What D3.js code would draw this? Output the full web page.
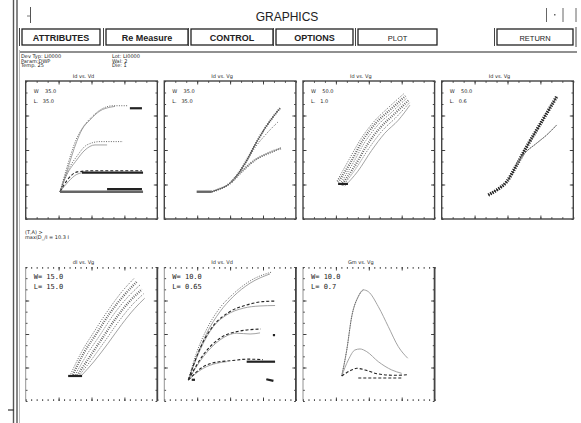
<!DOCTYPE html>
<html><head><meta charset="utf-8">
<script src="https://cdn.jsdelivr.net/npm/d3@7"></script>
<style>
body{margin:0;background:#fff}
svg{display:block}
text{font-family:"DejaVu Sans",sans-serif;fill:#222}
</style>
</head><body><div id="chart"></div>
<script>
// ---- data (each panel uses 0..12 units on both axes)

// top row, panel 1: Id vs. Vd
var idVdA1 = [[3.13,2.37],[3.74,4.12],[4.65,6.73],[5.11,7.74],[5.86,8.61],[6.78,9.40],[7.69,9.72],[8.14,9.79]];
var idVdA2 = [[3.13,2.37],[3.7,4.3],[4.6,6.9],[5.2,7.95],[6.0,8.85],[7.0,9.6],[8.0,9.85],[9.3,9.85]];
var idVdA3 = [[9.5,9.63],[10.6,9.63]];
var idVdB1 = [[3.13,2.37],[3.74,3.83],[4.65,5.13],[5.41,6.0],[6.32,6.44],[7.42,6.44]];
var idVdB2 = [[3.13,2.37],[3.8,4.1],[4.7,5.5],[5.6,6.45],[6.78,6.73],[8.87,6.73]];
var idVdC1 = [[3.13,2.37],[3.89,3.25],[4.6,3.85],[5.13,4.03]];
var idVdC1Flat = [[5.13,4.03],[10.7,4.03]];
var idVdC2 = [[3.13,2.37],[3.8,3.4],[4.7,4.1],[6.05,4.2],[10.6,4.2]];
var idVdD1 = [[3.13,2.37],[10.7,2.37]];
var idVdD2 = [[7.42,2.6],[10.6,2.6]];

// top row, panel 2: Id vs. Vg
var idVg1Flat = [[2.95,2.37],[4.32,2.37]];
var idVg1A = [[4.32,2.37],[4.78,2.52],[6.15,3.25],[7.36,4.85],[8.27,6.44],[9.18,7.89],[9.94,8.9],[10.55,9.63]];
var idVg1B = [[6.15,3.25],[7.36,4.75],[8.27,6.2],[9.3,7.4],[10.4,8.47]];
var idVg1C = [[6.15,3.25],[7.06,4.12],[8.27,5.13],[9.48,5.72],[10.64,6.15]];

// top row, panel 3: Id vs. Vg (bundle)
var idVg2C1 = [[3.1,3.3],[4.1,5.0],[5.3,7.0],[6.5,8.5],[7.8,9.7],[9.2,10.9]];
var idVg2C2 = [[3.2,3.2],[4.3,4.85],[5.45,6.85],[6.65,8.35],[7.95,9.5],[9.35,10.7]];
var idVg2C3 = [[3.37,3.05],[4.47,4.7],[5.65,6.7],[6.84,8.18],[8.12,9.31],[9.48,10.53]];
var idVg2C4 = [[3.5,2.95],[4.65,4.5],[5.85,6.45],[7.05,7.95],[8.3,9.1],[9.6,10.3]];
var idVg2C5 = [[3.65,2.9],[4.8,4.35],[6.05,6.2],[7.25,7.7],[8.5,8.85],[9.7,10.1]];
var idVg2C6 = [[3.8,2.85],[5.0,4.15],[6.25,5.95],[7.45,7.45],[8.7,8.6],[9.75,9.9]];
var idVg2Stub = [[3.2,3.05],[4.1,3.05]];

// top row, panel 4: Id vs. Vg
var idVg3Main = [[4.25,2.09],[5.02,2.52],[5.93,3.25],[6.84,4.70],[7.75,6.29],[8.66,7.74],[9.58,9.2],[10.49,10.64]];
var idVg3Low = [[6.84,4.70],[7.44,5.57],[8.66,6.59],[9.58,7.31],[10.49,8.18]];

// bottom row, panel 1: dI vs. Vg (bundle)
var diVgE1 = [[4.1,2.4],[5.1,4.4],[6.3,6.3],[7.5,8.1],[8.7,9.7],[9.9,11.0]];
var diVgE2 = [[4.3,2.35],[5.3,4.3],[6.5,6.1],[7.7,7.9],[8.95,9.45],[10.15,10.7]];
var diVgE3 = [[4.5,2.33],[5.56,4.12],[6.78,5.91],[7.99,7.71],[9.21,9.2],[10.42,10.39]];
var diVgE4 = [[4.7,2.3],[5.8,3.9],[7.0,5.65],[8.25,7.45],[9.45,8.9],[10.6,10.0]];
var diVgE5 = [[4.9,2.3],[6.0,3.7],[7.25,5.4],[8.5,7.15],[9.7,8.6],[10.75,9.6]];
var diVgE6 = [[5.1,2.3],[6.2,3.5],[7.5,5.15],[8.75,6.85],[9.95,8.3],[10.85,9.2]];
var diVgStub = [[3.87,2.24],[5.14,2.24]];

// bottom row, panel 2: Id vs. Vd
var icVdF1 = [[2.19,1.88],[2.95,3.97],[3.87,6.07],[5.08,8.0],[6.29,9.35],[7.82,10.55],[9.64,11.38]];
var icVdF2 = [[2.19,1.88],[2.9,4.2],[3.8,6.3],[5.0,8.25],[6.3,9.6],[7.9,10.8],[9.8,11.55]];
var icVdG1 = [[2.19,1.88],[3.26,4.57],[4.47,6.66],[5.69,7.71],[7.2,8.31],[8.73,8.51],[10.1,8.55]];
var icVdG2 = [[2.19,1.88],[3.3,4.8],[4.6,6.9],[5.9,7.95],[7.5,8.6],[9.0,8.9],[10.1,8.95]];
var icVdH1 = [[2.19,1.88],[3.56,3.97],[5.08,5.47],[6.6,6.07],[7.82,6.0],[8.73,6.1]];
var icVdH2 = [[2.19,1.88],[3.6,4.2],[5.2,5.7],[6.8,6.25],[8.8,6.45]];
var icVdI1 = [[2.19,1.88],[3.56,2.93],[4.78,3.38],[5.69,3.52]];
var icVdI2 = [[2.19,1.88],[3.6,3.1],[4.9,3.5],[6.0,3.6],[7.6,3.75],[9.0,3.7]];
var icVdIFlat = [[7.51,3.52],[10.1,3.52]];
var icVdDash1 = [[9.9,5.9],[10.1,5.9]];
var icVdDash2 = [[2.5,1.9],[2.8,1.9]];
var icVdDash3 = [[9.3,1.95],[9.95,1.8]];

// bottom row, panel 3: Gm vs. Vg
var gmVgP1 = [[3.53,2.24],[3.99,4.57],[4.44,7.55],[5.04,9.35],[5.5,9.95],[5.96,9.79],[6.87,8.45],[7.78,6.66],[8.69,4.87],[9.55,3.83]];
var gmVgP1Rise = [[3.53,2.24],[3.99,4.57],[4.44,7.55],[5.04,9.35],[5.5,9.95]];
var gmVgP2 = [[3.53,2.24],[4.13,3.67],[4.74,4.57],[5.2,4.66],[5.81,4.42],[6.87,3.52],[8.09,2.78],[9.0,2.48]];
var gmVgP3 = [[3.53,2.24],[4.44,2.78],[4.9,2.93],[5.65,2.78],[6.87,2.42],[8.39,2.3],[9.6,2.36]];
var gmVgP4 = [[5.04,2.06],[9.0,2.06]];

// texts
var titles = ["Id vs. Vd","Id vs. Vg","Id vs. Vg","Id vs. Vg","dI vs. Vg","Id vs. Vd","Gm vs. Vg"];
var legendW = ["W    35.0","W    35.0","W    50.0","W    50.0","W= 15.0","W= 10.0","W= 10.0"];
var legendL = ["L.   35.0","L.   35.0","L.   1.0","L.   0.6","L= 15.0","L= 0.65","L= 0.7"];
var buttons = ["ATTRIBUTES","Re Measure","CONTROL","OPTIONS","PLOT","RETURN"];
var infoLeft = ["Dev Typ: LI0000","Param:DWP","Temp.   25"];
var infoRight = ["Lot: LI0000","Wal: 2","Die: 1"];
var noteLines = ["(T,A) >","max(D_/I = 10.3 I"];

// ---- layout
var width = 581, height = 423;
var colLeft = [25.7, 164.3, 303, 441.7], panelW = 131.6;
var rowBox = [{top: 81, bottom: 219}, {top: 267, bottom: 401}];
var btnX0 = [22, 106, 191, 276, 358, 497], btnX1 = [100, 188, 273, 353, 437, 573];

var svg = d3.select("#chart").append("svg")
    .attr("width", width).attr("height", height);
svg.append("rect").attr("width", width).attr("height", height).attr("fill", "#fff");

// left window bars
[13.5, 17].forEach(function(x){
  svg.append("line").attr("x1", x).attr("x2", x).attr("y1", 0).attr("y2", height)
    .attr("stroke", "#555").attr("stroke-width", 1.4);
});
svg.append("line").attr("x1", 19.5).attr("x2", 19.5).attr("y1", 50).attr("y2", height)
  .attr("stroke", "#aaa").attr("stroke-width", 0.8);
svg.append("line").attr("x1", 8).attr("x2", 14).attr("y1", 410).attr("y2", 410)
  .attr("stroke", "#333").attr("stroke-width", 1.2);

// little marks top left / top right
svg.append("line").attr("x1", 30.5).attr("x2", 30.5).attr("y1", 7).attr("y2", 23).attr("stroke", "#555");
svg.append("line").attr("x1", 27).attr("x2", 30).attr("y1", 16).attr("y2", 16).attr("stroke", "#777");
[546.5, 563, 576].forEach(function(x){
  svg.append("line").attr("x1", x).attr("x2", x).attr("y1", 8).attr("y2", 22).attr("stroke", "#666");
});
svg.append("rect").attr("x", 554).attr("y", 14).attr("width", 1.5).attr("height", 1.5).attr("fill", "#666");

// header
svg.append("text").attr("x", 287).attr("y", 21).attr("text-anchor", "middle")
  .style("font-family", "Liberation Sans").style("font-size", "12px").text("GRAPHICS");

buttons.forEach(function(b, i){
  var x0 = btnX0[i], x1 = btnX1[i];
  svg.append("rect").attr("x", x0).attr("y", 29).attr("width", x1 - x0).attr("height", 16)
    .attr("fill", "#fff").attr("stroke", "#222").attr("stroke-width", 1.3);
  svg.append("line").attr("x1", x0 - 2.5).attr("x2", x0 - 2.5).attr("y1", 28).attr("y2", 46)
    .attr("stroke", "#444").attr("stroke-width", 1);
  svg.append("text").attr("x", (x0 + x1) / 2).attr("y", 40.5).attr("text-anchor", "middle")
    .style("font-family", "Liberation Sans")
    .style("font-weight", i < 4 ? "bold" : "normal")
    .style("font-size", i < 4 ? "9px" : "7.5px")
    .text(b);
});
svg.append("line").attr("x1", 576).attr("x2", 576).attr("y1", 27).attr("y2", 47).attr("stroke", "#444");
svg.append("line").attr("x1", 20).attr("x2", 577).attr("y1", 52).attr("y2", 52)
  .attr("stroke", "#222").attr("stroke-width", 1.2);

// info block
infoLeft.forEach(function(t, i){
  svg.append("text").attr("x", 21).attr("y", 58 + i * 4.5).style("font-size", "5px").text(t);
});
infoRight.forEach(function(t, i){
  svg.append("text").attr("x", 112).attr("y", 58 + i * 4.5).style("font-size", "5px").text(t);
});
noteLines.forEach(function(t, i){
  svg.append("text").attr("x", 25).attr("y", 234 + i * 5).style("font-size", "5px").text(t);
});

// ---- panels
var styles = {
  solid: {stroke: "#444", w: 0.9, dash: null},
  gray:  {stroke: "#999", w: 0.9, dash: null},
  dash:  {stroke: "#222", w: 1.1, dash: "3,2"},
  dot:   {stroke: "#555", w: 0.9, dash: "1,1.4"},
  hatch: {stroke: "#555", w: 2.2, dash: "0.8,1.4"},
  tri:   {stroke: "#222", w: 3.4, dash: "1.2,1.2"},
  thick: {stroke: "#222", w: 2.2, dash: null},
  bar:   {stroke: "#666", w: 2.4, dash: null}
};

var panels = [
  {row: 0, col: 0, curves: [
    [idVdA1, "gray"], [idVdA2, "dot"], [idVdA3, "thick"],
    [idVdB1, "gray"], [idVdB2, "dot"],
    [idVdC1, "gray"], [idVdC1Flat, "thick"], [idVdC2, "dash"],
    [idVdD1, "bar"], [idVdD2, "thick"]]},
  {row: 0, col: 1, curves: [
    [idVg1Flat, "bar"], [idVg1A, "hatch"], [idVg1A, "solid"], [idVg1B, "dot"], [idVg1C, "hatch"], [idVg1C, "gray"]]},
  {row: 0, col: 2, curves: [
    [idVg2C1, "dot"], [idVg2C2, "hatch"], [idVg2C3, "dot"], [idVg2C4, "hatch"],
    [idVg2C5, "dot"], [idVg2C6, "gray"], [idVg2Stub, "thick"]]},
  {row: 0, col: 3, curves: [
    [idVg3Main, "solid"], [idVg3Main, "tri"], [idVg3Low, "gray"], [idVg3Low, "dot"]]},
  {row: 1, col: 0, curves: [
    [diVgE1, "dot"], [diVgE2, "hatch"], [diVgE3, "dot"], [diVgE4, "hatch"],
    [diVgE5, "dot"], [diVgE6, "gray"], [diVgStub, "thick"]]},
  {row: 1, col: 1, curves: [
    [icVdF1, "gray"], [icVdF2, "dot"], [icVdG1, "gray"], [icVdG2, "dash"],
    [icVdH1, "gray"], [icVdH2, "dash"], [icVdI1, "gray"], [icVdI2, "dash"],
    [icVdIFlat, "thick"], [icVdDash1, "thick"], [icVdDash2, "thick"], [icVdDash3, "thick"]]},
  {row: 1, col: 2, curves: [
    [gmVgP1, "gray"], [gmVgP1Rise, "dot"], [gmVgP2, "gray"], [gmVgP3, "dash"], [gmVgP4, "dash"]]}
];

var line = d3.line().curve(d3.curveMonotoneX);

panels.forEach(function(p, i){
  var left = colLeft[p.col], top = rowBox[p.row].top, h = rowBox[p.row].bottom - top;
  var g = svg.append("g").attr("transform", "translate(" + left + "," + top + ")");
  var x = d3.scaleLinear().domain([0, 12]).range([0, panelW]);
  var y = d3.scaleLinear().domain([0, 12]).range([h, 0]);
  var xStep = p.row === 0 ? 1 : 0.5;

  function ticks(axis, vals, size, tr){
    var a = g.append("g").attr("transform", tr)
      .call(axis.tickValues(vals).tickSize(size).tickFormat(""));
    a.select(".domain").remove();
    a.selectAll("line").attr("stroke", "#333").attr("stroke-width", 0.9);
  }
  var xMinor = d3.range(0, 12.001, xStep), yMinor = d3.range(0, 12.001, 1), major = [3, 6, 9];
  ticks(d3.axisBottom(x), xMinor, -1.8, "translate(0," + h + ")");
  ticks(d3.axisBottom(x), major, -3.5, "translate(0," + h + ")");
  ticks(d3.axisTop(x), xMinor, -1.8, null);
  ticks(d3.axisTop(x), major, -3.5, null);
  ticks(d3.axisLeft(y), yMinor, -1.8, null);
  ticks(d3.axisLeft(y), major, -3.5, null);
  ticks(d3.axisRight(y), yMinor, -1.8, "translate(" + panelW + ",0)");
  ticks(d3.axisRight(y), major, -3.5, "translate(" + panelW + ",0)");

  if (p.row === 0) {
    g.append("rect").attr("width", panelW).attr("height", h)
      .attr("fill", "none").attr("stroke", "#444").attr("stroke-width", 1.4);
  } else {
    g.append("line").attr("x1", 0).attr("x2", 0).attr("y1", 0).attr("y2", h)
      .attr("stroke", "#777").attr("stroke-width", 0.8);
    g.append("line").attr("x1", panelW).attr("x2", panelW).attr("y1", 0).attr("y2", h)
      .attr("stroke", "#444").attr("stroke-width", 1.8);
  }

  line.x(function(d){ return x(d[0]); }).y(function(d){ return y(d[1]); });
  p.curves.forEach(function(c){
    var s = styles[c[1]];
    g.append("path").datum(c[0])
      .attr("fill", "none")
      .attr("stroke", s.stroke)
      .attr("stroke-width", s.w)
      .attr("stroke-dasharray", s.dash)
      .attr("d", line);
  });

  svg.append("text").attr("x", left + panelW / 2 - 8).attr("y", top - 3)
    .attr("text-anchor", "middle").style("font-size", "5px").text(titles[i]);
  var big = p.row === 1;
  [legendW[i], legendL[i]].forEach(function(t, k){
    g.append("text").attr("x", 8).attr("y", (big ? 12 : 11.5) + k * 10)
      .style("font-family", big ? "DejaVu Sans Mono" : "DejaVu Sans")
      .style("font-size", big ? "7px" : "5px")
      .style("white-space", "pre").attr("xml:space", "preserve")
      .text(t);
  });
});
</script>
</body></html>
